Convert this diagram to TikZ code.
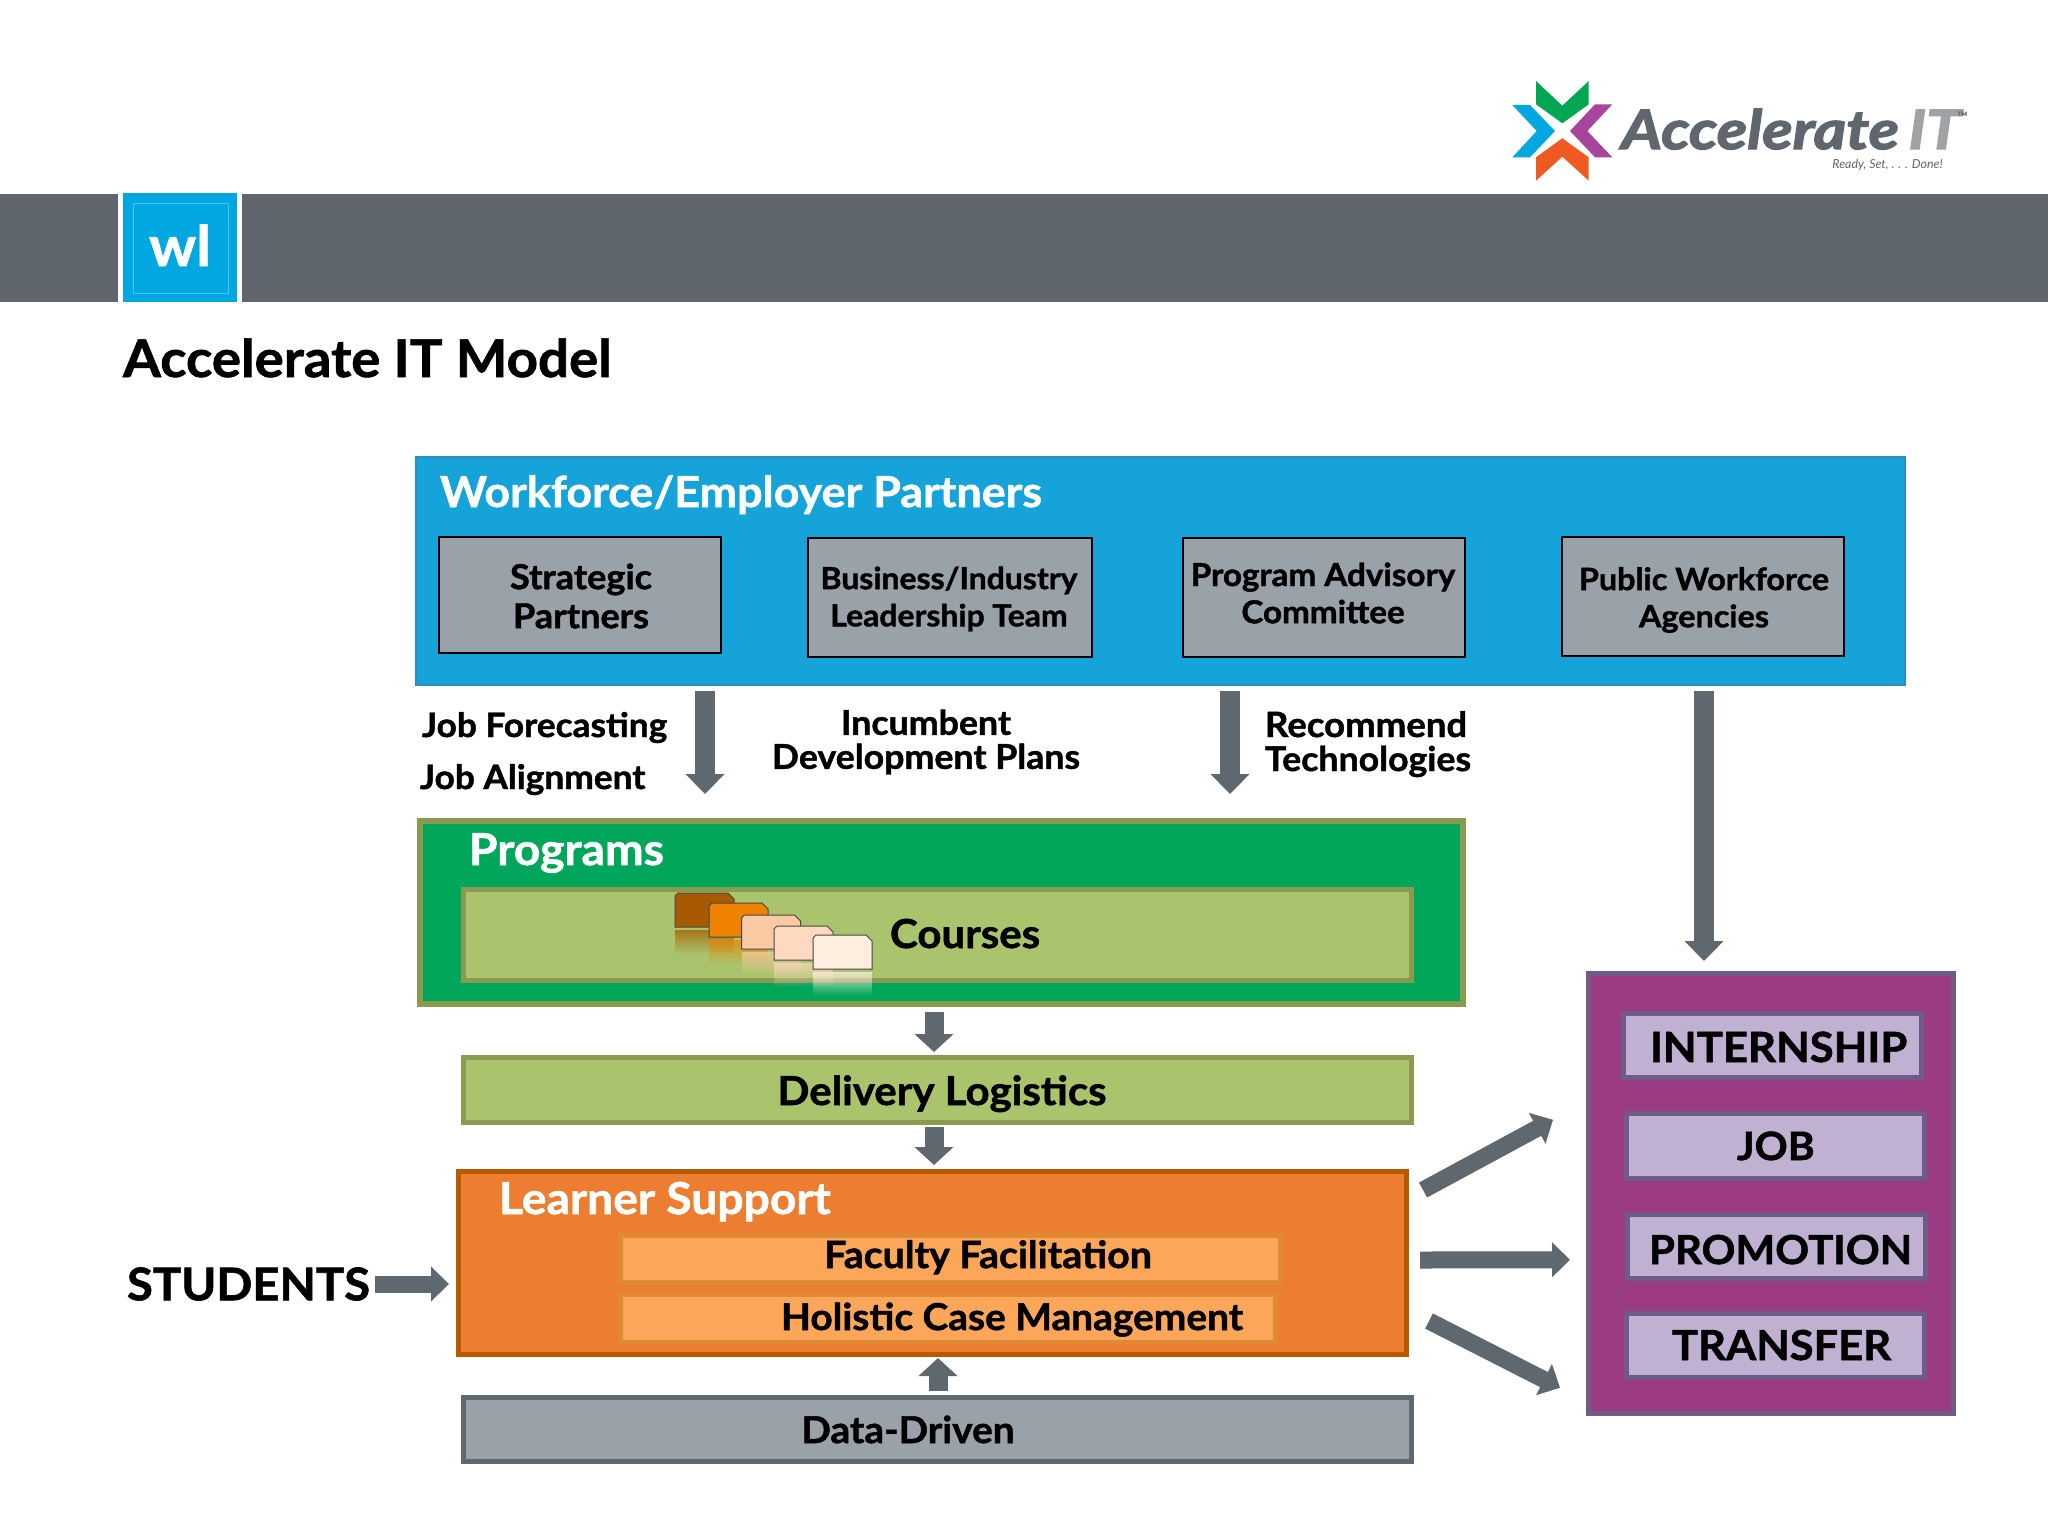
\documentclass[tikz,border=0pt]{standalone}
\usepackage{fontspec}
\setmainfont{Lato}[BoldFeatures={FakeBold=1.3,FakeStretch=1.05}]
\newfontfamily\logofont[BoldItalicFeatures={FakeBold=2.6,FakeStretch=1.16}]{Lato}
\usetikzlibrary{arrows.meta,fadings}
\definecolor{band}{HTML}{5F666D}
\definecolor{wlblue}{HTML}{00A7E1}
\definecolor{wlline}{HTML}{4FC3EF}
\definecolor{wfblue}{HTML}{15A3DA}
\definecolor{wfedge}{HTML}{2A8FC0}
\definecolor{slate}{HTML}{99A1A9}
\definecolor{arrowgray}{HTML}{5F686F}
\definecolor{pgreen}{HTML}{00A65A}
\definecolor{olive}{HTML}{8A9A50}
\definecolor{lgreen}{HTML}{A9C46C}
\definecolor{lorange}{HTML}{ED7D31}
\definecolor{dorange}{HTML}{B85A00}
\definecolor{sorange}{HTML}{FBA659}
\definecolor{eorange}{HTML}{E08A35}
\definecolor{purple}{HTML}{9B3B81}
\definecolor{pedge}{HTML}{6F5A8A}
\definecolor{lilac}{HTML}{C0B0D2}
\definecolor{logogreen}{HTML}{00A651}
\definecolor{logopurple}{HTML}{A8449B}
\definecolor{logoorange}{HTML}{F05A22}
\definecolor{logogray}{HTML}{A0A3A6}
\definecolor{fa}{HTML}{A85A00}
\definecolor{fb}{HTML}{EF8200}
\definecolor{fc}{HTML}{FCC9A5}
\definecolor{fd}{HTML}{FDD9C0}
\definecolor{fe}{HTML}{FDEEE0}
\tikzset{
  sz/.style 2 args={minimum width=#1*0.5pt,minimum height=#2*0.5pt},
  flat/.style={inner sep=0pt,outer sep=0pt,rectangle},
  wfbox/.style={flat,fill=wfblue,draw=wfedge,line width=1pt},
  partner/.style={flat,fill=slate,draw=black,line width=1.2pt},
  progbox/.style={flat,fill=pgreen,draw=olive,line width=3pt},
  greenbox/.style={flat,fill=lgreen,draw=olive,line width=2.5pt},
  learnbox/.style={flat,fill=lorange,draw=dorange,line width=2.5pt},
  subbox/.style={flat,fill=sorange,draw=eorange,line width=2.5pt},
  databox/.style={flat,fill=slate,draw=arrowgray,line width=2.5pt},
  outbox/.style={flat,fill=purple,draw=pedge,line width=2.5pt},
  resultbox/.style={flat,fill=lilac,draw=pedge,line width=2.5pt},
  bandbox/.style={flat,fill=band},
  wlbox/.style={flat,fill=wlblue},
  wlinner/.style={flat,draw=wlline,line width=0.5pt},
  lblw/.style={inner sep=0pt,outer sep=0pt,anchor=base west,font=\bfseries},
  lblc/.style={inner sep=0pt,outer sep=0pt,anchor=base,font=\bfseries},
  blk/.style={inner sep=0pt,outer sep=0pt,anchor=center,align=center},
  bigarrow/.style={draw=arrowgray,line width=10pt,-{Triangle[width=19pt,length=10pt]},shorten >=0pt},
  midarrow/.style={draw=arrowgray,line width=8.5pt,-{Triangle[width=17pt,length=9pt]}},
  smallarrow/.style={draw=arrowgray,line width=9.5pt,-{Triangle[width=19pt,length=9pt]}},
  folder/.style={draw=black!45!gray,line width=0.5pt},
}
\newcommand{\pxbox}[6]{\node[#2,sz={(#5-#3)}{(#6-#4)}] (#1) at ({(#3+#5)/2},{(#4+#6)/2}) {};}
\newcommand{\pxtext}[5]{\node[#2] (#1) at (#3,#4) {#5};}
\newcommand{\fsz}[1]{\fontsize{#1}{#1}\selectfont}
\newcommand{\folderat}[3]{%
  \fill[#3,path fading=south,opacity=.75] (#1,#2+37) rectangle ++(59,24);
  \draw[folder,fill=#3] (#1,#2+34) -- (#1,#2+3) -- ++(3,-3) -- ++(50,0) -- ++(6,6) -- (#1+59,#2+34) -- cycle;}
\begin{document}
\begin{tikzpicture}[x=0.5pt,y=-0.5pt]
\useasboundingbox (0,0) rectangle (2048,1536);
\fill[white] (0,0) rectangle (2048,1536);
% header band
\pxbox{bandL}{bandbox}{0}{194}{118}{302}
\pxbox{bandR}{bandbox}{242}{194}{2048}{302}
\pxbox{wl}{wlbox}{123}{193}{237}{302}
\pxbox{wlin}{wlinner}{133}{203}{228}{293}
\pxtext{wlt}{lblc,text=white,font=\bfseries\fsz{28}}{180}{266}{wl}
\pxtext{title}{lblw,font=\bfseries\fsz{26}}{123}{377}{Accelerate IT Model}
% logo
\fill[logogreen] (1536,81) -- (1562.3,105.7) -- (1588.7,81) -- (1588.7,104.3) -- (1562.3,123.3) -- (1536,104.3) -- cycle;
\fill[wlblue] (1512.3,105) -- (1530,105) -- (1555,131) -- (1530,157.3) -- (1512.3,157.3) -- (1536.7,131) -- cycle;
\fill[logopurple] (1612.3,104.3) -- (1595,104.3) -- (1570,131) -- (1595,157.3) -- (1612.3,157.3) -- (1587.3,131) -- cycle;
\fill[logoorange] (1536,180.7) -- (1562.3,156.7) -- (1588.7,180.7) -- (1588.7,157.3) -- (1562.3,138.3) -- (1536,157.3) -- cycle;
\pxtext{logoA}{inner sep=0pt,anchor=base west,text=band}{1621}{149}{\logofont\bfseries\itshape\fsz{27}Accelerate}
\pxtext{logoB}{inner sep=0pt,anchor=base west,text=logogray}{1908}{149}{\logofont\bfseries\itshape\fsz{27}IT}
\pxtext{logoC}{inner sep=0pt,anchor=base west,text=band}{1957}{116}{\bfseries\fsz{3}TM}
\pxtext{logoD}{inner sep=0pt,anchor=base west,text=band}{1832}{168}{\itshape\fsz{6.2}Ready, Set, . . . Done!}
% workforce
\pxbox{workforce}{wfbox}{416}{457}{1905}{685}
\pxtext{wft}{lblw,text=white,font=\bfseries\fsz{21.35}}{440}{507}{Workforce/Employer Partners}
\pxbox{strategic}{partner}{439}{537}{721}{653}
\pxbox{business}{partner}{808}{538}{1092}{657}
\pxbox{advisory}{partner}{1183}{538}{1465}{657}
\pxbox{public}{partner}{1562}{537}{1844}{656}
\pxtext{strategict}{blk,font=\bfseries\fontsize{17.2}{19.5}\selectfont}{581}{596}{Strategic\\Partners}
\pxtext{businesst}{blk,font=\bfseries\fontsize{15.2}{18.6}\selectfont}{949}{599}{Business/Industry\\Leadership Team}
\pxtext{advisoryt}{blk,font=\bfseries\fontsize{15.8}{18.6}\selectfont}{1323}{593}{Program Advisory\\Committee}
\pxtext{publict}{blk,font=\bfseries\fontsize{15.4}{18.6}\selectfont}{1704}{600}{Public Workforce\\Agencies}
% labels between
\pxtext{jobf}{lblw,font=\bfseries\fsz{16.8}}{422}{737}{Job Forecasting}
\pxtext{joba}{lblw,font=\bfseries\fsz{16.8}}{420}{789}{Job Alignment}
\pxtext{incu}{blk,font=\bfseries\fontsize{17}{17}\selectfont}{926}{742}{Incumbent\\Development Plans}
\pxtext{reco}{lblw,font=\bfseries\fsz{17.4}}{1265}{737}{Recommend}
\pxtext{tech}{lblw,font=\bfseries\fsz{17}}{1265}{771}{Technologies}
% programs
\pxbox{programs}{progbox}{420}{821}{1463}{1004}
\pxbox{courses}{greenbox}{463}{889}{1411}{980}
\pxtext{progt}{lblw,text=white,font=\bfseries\fsz{22}}{469}{865}{Programs}
\folderat{675}{893}{fa}
\folderat{709}{903}{fb}
\folderat{741.5}{915}{fc}
\folderat{774}{926}{fd}
\folderat{813}{935}{fe}
\pxtext{courst}{lblw,font=\bfseries\fsz{20}}{890}{948}{Courses}
% delivery
\pxbox{delivery}{greenbox}{463}{1057}{1411}{1122}
\pxtext{delivt}{lblc,font=\bfseries\fsz{20}}{942}{1105}{Delivery Logistics}
% learner support
\pxbox{learner}{learnbox}{458}{1171}{1406}{1354}
\pxtext{learnt}{lblw,text=white,font=\bfseries\fsz{22}}{499}{1214}{Learner Support}
\pxbox{faculty}{subbox}{620}{1235}{1280}{1282}
\pxbox{holistic}{subbox}{620}{1294}{1275}{1342}
\pxtext{facultyt}{lblc,font=\bfseries\fsz{18.7}}{988}{1268}{Faculty Facilitation}
\pxtext{holistict}{lblc,font=\bfseries\fsz{18.5}}{1012}{1330}{Holistic Case Management}
% data driven
\pxbox{data}{databox}{463}{1397}{1411}{1461}
\pxtext{datat}{lblc,font=\bfseries\fsz{18.5}}{908}{1443}{Data-Driven}
% students
\pxtext{students}{inner sep=0pt,outer sep=0pt,anchor=west,font=\bfseries\fsz{22.5}}{127}{1284}{STUDENTS}
% outcomes
\pxbox{outcomes}{outbox}{1588.5}{973}{1953}{1413.5}
\pxbox{intern}{resultbox}{1623.5}{1013.5}{1921.5}{1077.5}
\pxbox{job}{resultbox}{1626.5}{1113.5}{1924.5}{1178.5}
\pxbox{promo}{resultbox}{1627.5}{1214.5}{1925.5}{1278.5}
\pxbox{transfer}{resultbox}{1626.5}{1313.5}{1924.5}{1377.5}
\pxtext{internt}{lblw,font=\bfseries\fsz{20.8}}{1650}{1062}{INTERNSHIP}
\pxtext{jobt}{lblw,font=\bfseries\fsz{19.5}}{1737}{1160}{JOB}
\pxtext{promot}{lblw,font=\bfseries\fsz{20}}{1649}{1264}{PROMOTION}
\pxtext{transfert}{lblw,font=\bfseries\fsz{20.7}}{1672}{1360}{TRANSFER}
% connectors
\draw[bigarrow] ([xshift=-227.75pt,yshift=-3pt]workforce.south) -- ([xshift=-118.25pt,yshift=13.5pt]programs.north);
\draw[bigarrow] ([xshift=34.75pt,yshift=-3pt]workforce.south) -- ([xshift=144.25pt,yshift=13.5pt]programs.north);
\draw[bigarrow] ([xshift=271.75pt,yshift=-3pt]workforce.south) -- ([xshift=-33.375pt,yshift=6pt]outcomes.north);
\draw[smallarrow] ([xshift=-3.75pt,yshift=-4pt]programs.south) -- ([xshift=-1.5pt,yshift=2.5pt]delivery.north);
\draw[smallarrow] ([xshift=-1.5pt,yshift=-2.5pt]delivery.south) -- ([xshift=1pt,yshift=3pt]learner.north);
\draw[smallarrow] ([xshift=.5pt,yshift=3pt]data.north) -- ([xshift=3pt,yshift=-2pt]learner.south);
\draw[midarrow,shorten <=2.5pt,shorten >=4.5pt] (students.east) -- (students.east -| learner.west);
\draw[midarrow] ([xshift=8.5pt,yshift=36.25pt]learner.east) -- ([xshift=-17.75pt,yshift=36.75pt]outcomes.west);
\draw[midarrow] ([xshift=7pt,yshift=1.25pt]learner.east) -- ([xshift=-9.25pt,yshift=-33.25pt]outcomes.west);
\draw[midarrow] ([xshift=11.5pt,yshift=-29.25pt]learner.east) -- ([xshift=-14.25pt,yshift=-97.25pt]outcomes.west);
\end{tikzpicture}
\end{document}
